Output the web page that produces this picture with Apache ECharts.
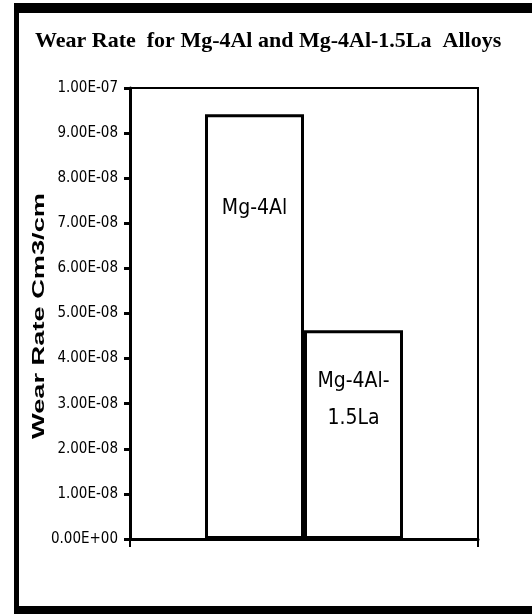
<!DOCTYPE html>
<html>
<head>
<meta charset="utf-8">
<script src="https://cdn.jsdelivr.net/npm/echarts@6/dist/echarts.min.js"></script>
<style>
  html, body { margin: 0; padding: 0; background: #fff; }
  #chart { width: 532px; height: 614px; }
</style>
</head>
<body>
<div id="chart"></div>
<script>
// data
var categories = ['']
var alloyNames = ['Mg-4Al', 'Mg-4Al-\n1.5La']
var wearRates = [9.42e-8, 4.63e-8]
var yTicks = { min: 0, max: 1e-7, interval: 1e-8 }

function sci(v) {
  // 9.00E-08 style, two digit exponent
  var s = Number(v).toExponential(2)
  return s.replace(/e([+-])(\d+)$/, function(m, sign, exp) {
    return 'E' + sign + (exp.length < 2 ? '0' + exp : exp)
  })
}

var chart = echarts.init(document.getElementById('chart'))

var narrow = '"DejaVu Sans Condensed", "Liberation Sans Narrow", "Liberation Sans", Arial'

var labelStyle = {
  show: true,
  position: 'insideTop',
  color: '#000',
  fontFamily: narrow,
  fontSize: 21,
  lineHeight: 37,
  formatter: '{a}'
}

chart.setOption({
  animation: false,
  backgroundColor: '#fff',
  title: {
    text: 'Wear Rate  for Mg-4Al and Mg-4Al-1.5La  Alloys',
    left: 30,
    top: 25,
    textStyle: {
      color: '#000',
      fontFamily: '"Liberation Serif", "Times New Roman", serif',
      fontWeight: 'bold',
      fontSize: 22
    }
  },
  graphic: [
    // outer frame
    { type: 'rect', shape: { x: 14, y: 3, width: 530, height: 10 }, style: { fill: '#000' } },
    { type: 'rect', shape: { x: 14, y: 3, width: 5, height: 620 }, style: { fill: '#000' } },
    { type: 'rect', shape: { x: 14, y: 606, width: 530, height: 10 }, style: { fill: '#000' } },
    {
      type: 'text',
      x: 39,
      y: 316,
      rotation: Math.PI / 2,
      scaleX: 1.6,
      style: {
        text: 'Wear Rate Cm3/cm',
        fill: '#000',
        font: 'bold 17px "Liberation Sans", Arial',
        textAlign: 'center',
        textVerticalAlign: 'middle'
      }
    }
  ],
  grid: {
    left: 130,
    right: 54,
    top: 88,
    bottom: 75,
    show: true,
    borderColor: '#000',
    borderWidth: 2
  },
  xAxis: {
    type: 'category',
    data: categories,
    axisLine: { lineStyle: { color: '#000', width: 3 } },
    axisTick: { show: true, length: 8, lineStyle: { color: '#000', width: 2 } },
    axisLabel: { show: false }
  },
  yAxis: {
    type: 'value',
    min: yTicks.min,
    max: yTicks.max,
    interval: yTicks.interval,
    splitLine: { show: false },
    axisLine: { show: true, lineStyle: { color: '#000', width: 3 } },
    axisTick: { show: true, length: 6, lineStyle: { color: '#000', width: 3 } },
    axisLabel: {
      margin: 12,
      color: '#000',
      fontFamily: narrow,
      fontSize: 15,
      formatter: sci
    }
  },
  series: [
    {
      name: alloyNames[0],
      type: 'bar',
      data: [wearRates[0]],
      barWidth: 99,
      barGap: '0%',
      itemStyle: { color: '#fff', borderColor: '#000', borderWidth: 3 },
      label: Object.assign({}, labelStyle, { distance: 76 })
    },
    {
      name: alloyNames[1],
      type: 'bar',
      data: [wearRates[1]],
      barWidth: 99,
      barGap: '0%',
      itemStyle: { color: '#fff', borderColor: '#000', borderWidth: 3 },
      label: Object.assign({}, labelStyle, { distance: 33 })
    }
  ]
})
</script>
</body>
</html>
